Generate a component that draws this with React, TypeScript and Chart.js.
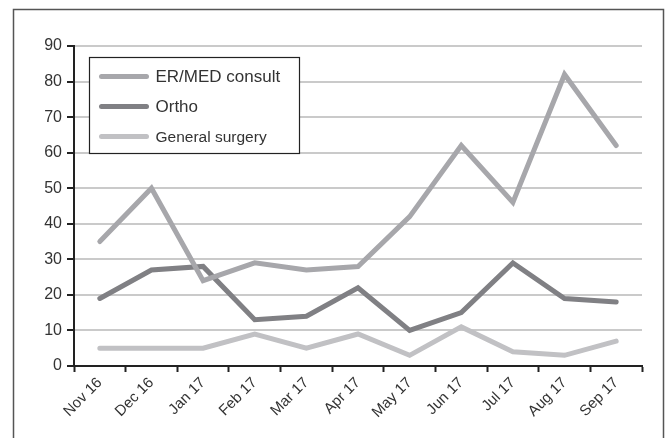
import React, { useEffect, useRef } from "react";
import { Chart, registerables } from "chart.js";

Chart.register(...registerables);

const categories = ["Nov 16", "Dec 16", "Jan 17", "Feb 17", "Mar 17", "Apr 17", "May 17", "Jun 17", "Jul 17", "Aug 17", "Sep 17"];
const erMedConsult = [35, 50, 24, 29, 27, 28, 42, 62, 46, 82, 62];
const ortho = [19, 27, 28, 13, 14, 22, 10, 15, 29, 19, 18];
const generalSurgery = [5, 5, 5, 9, 5, 9, 3, 11, 4, 3, 7];
const seriesNames = ["ER/MED consult", "Ortho", "General surgery"];
const seriesColors = ["#a7a7ab", "#808084", "#c1c1c4"];
const yMin = 0;
const yMax = 90;
const yStep = 10;

const FONT = "'Liberation Sans', Arial, Helvetica, sans-serif";

const framePlugin = {
  id: "frame",
  beforeDraw(chart: any) {
    const ctx = chart.ctx;
    ctx.save();
    ctx.strokeStyle = "#555";
    ctx.lineWidth = 1.5;
    ctx.beginPath();
    ctx.moveTo(13.5, 450);
    ctx.lineTo(13.5, 9.5);
    ctx.lineTo(663.5, 9.5);
    ctx.lineTo(663.5, 450);
    ctx.stroke();
    ctx.restore();
  },
};

const legendFontSizes = [17, 17, 15.5];

const boxLegendPlugin = {
  id: "boxLegend",
  afterDraw(chart: any) {
    const ctx = chart.ctx;
    const area = chart.chartArea;
    const x0 = area.left + 15.5;
    const y0 = area.top + 11.5;
    const w = 210;
    const h = 96;
    ctx.save();
    ctx.fillStyle = "#fff";
    ctx.fillRect(x0, y0, w, h);
    ctx.strokeStyle = "#222";
    ctx.lineWidth = 1.2;
    ctx.strokeRect(x0, y0, w, h);
    chart.data.datasets.forEach((ds: any, i: number) => {
      const cy = y0 + 19 + i * 30;
      ctx.strokeStyle = ds.borderColor;
      ctx.lineWidth = 5;
      ctx.lineCap = "round";
      ctx.beginPath();
      ctx.moveTo(x0 + 12, cy);
      ctx.lineTo(x0 + 57, cy);
      ctx.stroke();
      ctx.fillStyle = "#333";
      ctx.font = legendFontSizes[i] + "px " + FONT;
      ctx.textBaseline = "middle";
      ctx.textAlign = "left";
      ctx.fillText(ds.label, x0 + 66, cy + 1);
    });
    ctx.restore();
  },
};

export default function App() {
  const ref = useRef<HTMLCanvasElement | null>(null);

  useEffect(() => {
    document.body.style.margin = "0";
    const canvas = ref.current;
    if (!canvas) return;
    const values = [erMedConsult, ortho, generalSurgery];
    const chart = new Chart(canvas, {
      type: "line",
      data: {
        labels: categories,
        datasets: values.map((v, i) => ({
          label: seriesNames[i],
          data: v,
          borderColor: seriesColors[i],
          backgroundColor: seriesColors[i],
          borderWidth: 5,
          pointRadius: 0,
          borderCapStyle: "round" as const,
          borderJoinStyle: "miter" as const,
          tension: 0,
        })),
      },
      options: {
        responsive: false,
        animation: false,
        layout: { padding: { left: 0, top: 46, right: 25, bottom: 0 } },
        plugins: {
          legend: { display: false },
          tooltip: { enabled: false },
        },
        scales: {
          x: {
            offset: true,
            grid: {
              offset: true,
              drawOnChartArea: false,
              drawTicks: true,
              tickLength: 6,
              tickColor: "#222",
              tickWidth: 2,
            },
            border: { color: "#222", width: 2 },
            ticks: {
              maxRotation: 45,
              minRotation: 45,
              color: "#333",
              padding: 2,
              font: { family: FONT, size: 15 },
            },
            afterFit(scale: any) {
              scale.height = 72;
            },
          },
          y: {
            min: yMin,
            max: yMax,
            ticks: {
              stepSize: yStep,
              color: "#333",
              padding: 5,
              font: { family: FONT, size: 16 },
            },
            grid: {
              color: "#cacaca",
              lineWidth: 2,
              tickLength: 7,
              tickColor: "#222",
              tickWidth: 2,
            },
            border: { color: "#222", width: 2 },
            afterFit(scale: any) {
              scale.width = 74;
            },
          },
        },
      },
      plugins: [framePlugin, boxLegendPlugin],
    });
    return () => chart.destroy();
  }, []);

  return (
    <div style={{ position: "absolute", left: 0, top: 0, width: 667, height: 438 }}>
      <canvas ref={ref} width={667} height={438} />
    </div>
  );
}
